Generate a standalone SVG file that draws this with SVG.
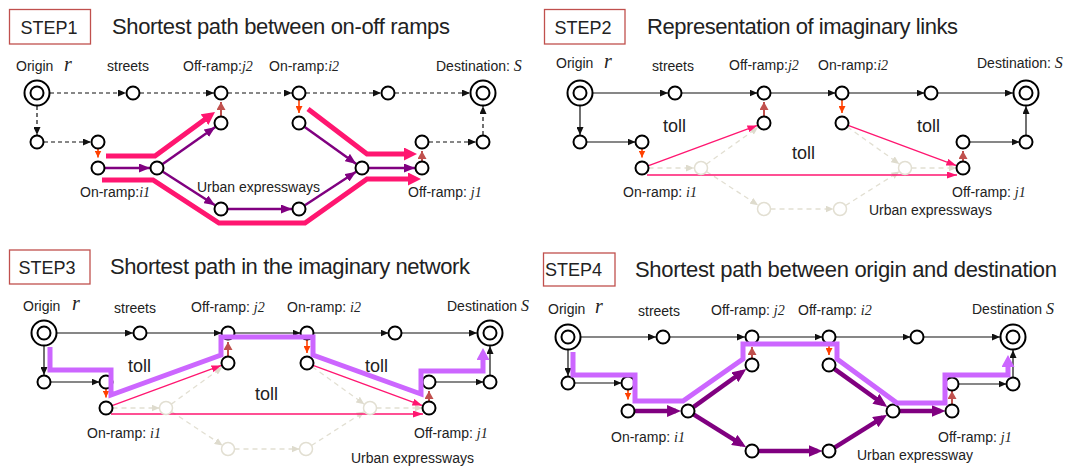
<svg xmlns="http://www.w3.org/2000/svg" width="1070" height="469" viewBox="0 0 1070 469">
<style>
.n{fill:#fff;stroke:#000;stroke-width:2}
.f{fill:#fff;stroke:#e2dfd2;stroke-width:1.5}
.e{stroke:#111;stroke-width:1.2;fill:none;marker-end:url(#ab)}
.d{stroke-dasharray:4 3}
.fe{stroke:#e2dfd2;stroke-width:1.3;stroke-dasharray:5 4;fill:none;marker-end:url(#af)}
.or{stroke:#ff4000;stroke-width:1.6;marker-end:url(#ao)}
.br{stroke:#c0504d;stroke-width:2;marker-end:url(#abr)}
.pu{stroke:#800080;stroke-width:2.5;marker-end:url(#apu)}
.pu4{stroke:#800080;stroke-width:4.5;marker-end:url(#apu4)}
.pk{stroke:#ff1670;stroke-width:5;fill:none;stroke-linejoin:miter;marker-end:url(#apk)}
.pt{stroke:#ff1670;stroke-width:1.3;fill:none;marker-end:url(#apt)}
.vi{stroke:#cc66ff;stroke-width:5;fill:none;stroke-linejoin:miter;marker-end:url(#avi)}
.box{fill:#fff;stroke:#c0504d;stroke-width:1.3}
text{font-family:"Liberation Sans",Arial,sans-serif;fill:#222}
.lb{font-size:14px}
.it{font-family:"Liberation Serif","Times New Roman",serif;font-style:italic}
.big{font-size:20px}
.sv{font-size:16px}
.tt{font-size:22px}
.st{font-size:18px}
.tl{font-size:18px}
</style>
<defs>
<marker id="ab" viewBox="0 0 10 10" preserveAspectRatio="none" markerUnits="userSpaceOnUse" markerWidth="8" markerHeight="7" refX="10" refY="5" orient="auto"><path d="M0,0L10,5L0,10z" fill="#111"/></marker>
<marker id="af" viewBox="0 0 10 10" preserveAspectRatio="none" markerUnits="userSpaceOnUse" markerWidth="8" markerHeight="7" refX="10" refY="5" orient="auto"><path d="M0,0L10,5L0,10z" fill="#dedbcd"/></marker>
<marker id="ao" viewBox="0 0 10 10" preserveAspectRatio="none" markerUnits="userSpaceOnUse" markerWidth="7" markerHeight="7" refX="10" refY="5" orient="auto"><path d="M0,0L10,5L0,10z" fill="#ff4000"/></marker>
<marker id="abr" viewBox="0 0 10 10" preserveAspectRatio="none" markerUnits="userSpaceOnUse" markerWidth="8" markerHeight="9" refX="10" refY="5" orient="auto"><path d="M0,0L10,5L0,10z" fill="#c0504d"/></marker>
<marker id="apu" viewBox="0 0 10 10" preserveAspectRatio="none" markerUnits="userSpaceOnUse" markerWidth="11" markerHeight="9" refX="10" refY="5" orient="auto"><path d="M0,0L10,5L0,10z" fill="#800080"/></marker>
<marker id="apu4" viewBox="0 0 10 10" preserveAspectRatio="none" markerUnits="userSpaceOnUse" markerWidth="14" markerHeight="12" refX="6.4" refY="5" orient="auto"><path d="M0,0L10,5L0,10z" fill="#800080"/></marker>
<marker id="apk" viewBox="0 0 10 10" preserveAspectRatio="none" markerUnits="userSpaceOnUse" markerWidth="13" markerHeight="13" refX="5.4" refY="5" orient="auto"><path d="M0,0L10,5L0,10z" fill="#ff1670"/></marker>
<marker id="apt" viewBox="0 0 10 10" preserveAspectRatio="none" markerUnits="userSpaceOnUse" markerWidth="10" markerHeight="7" refX="10" refY="5" orient="auto"><path d="M0,0L10,5L0,10z" fill="#ff1670"/></marker>
<marker id="avi" viewBox="0 0 10 10" preserveAspectRatio="none" markerUnits="userSpaceOnUse" markerWidth="12" markerHeight="13" refX="5" refY="5" orient="auto"><path d="M0,0L10,5L0,10z" fill="#cc66ff"/></marker>
</defs>

<!-- headers -->
<g id="headers">
<rect class="box" x="9.5" y="9.5" width="81" height="34.5"/>
<text class="st" x="20.5" y="33.5">STEP1</text>
<text class="tt" x="112" y="33.5" textLength="338" lengthAdjust="spacing">Shortest path between on-off ramps</text>
<rect class="box" x="544.5" y="9.5" width="80.5" height="34.5"/>
<text class="st" x="554.5" y="33.5">STEP2</text>
<text class="tt" x="647" y="33.5" textLength="311" lengthAdjust="spacing">Representation of imaginary links</text>
<rect class="box" x="9.5" y="250" width="80.5" height="34"/>
<text class="st" x="18.5" y="273.5">STEP3</text>
<text class="tt" x="110" y="273.5" textLength="360" lengthAdjust="spacing">Shortest path in the imaginary network</text>
<rect class="box" x="543.5" y="253" width="71.5" height="33"/>
<text class="st" x="545" y="276">STEP4</text>
<text class="tt" x="635" y="277" textLength="422" lengthAdjust="spacing">Shortest path between origin and destination</text>
</g>

<g id="connectors">
<!-- PANEL 1 -->
<line class="e d" x1="50" y1="93" x2="126" y2="93"/>
<line class="e d" x1="140" y1="93" x2="214" y2="93"/>
<line class="e d" x1="228" y1="93" x2="292" y2="93"/>
<line class="e d" x1="306" y1="93" x2="381" y2="93"/>
<line class="e d" x1="395" y1="93" x2="470" y2="93"/>
<line class="e d" x1="37" y1="106" x2="37" y2="135"/>
<line class="e d" x1="44" y1="142" x2="91" y2="142"/>
<line class="e d" x1="429" y1="142" x2="476" y2="142"/>
<line class="e d" x1="483" y1="135" x2="483" y2="106"/>
<line class="or" x1="98" y1="148.5" x2="98" y2="157.5"/>
<line class="or" x1="299" y1="100" x2="299" y2="113"/>
<line class="br" x1="221" y1="116" x2="221" y2="102"/>
<line class="br" x1="422" y1="161" x2="422" y2="151"/>
<line class="pu" x1="105" y1="168" x2="150" y2="168"/>
<line class="pu" x1="162.7" y1="164" x2="215.3" y2="127"/>
<line class="pu" x1="162.9" y1="171.8" x2="215.1" y2="205.2"/>
<line class="pu" x1="228" y1="209" x2="292" y2="209"/>
<line class="pu" x1="304.9" y1="205.2" x2="356.1" y2="171.8"/>
<line class="pu" x1="304.7" y1="127.1" x2="356.3" y2="163.9"/>
<line class="pu" x1="369" y1="168" x2="415" y2="168"/>
<path class="pk" d="M106,156 L155,156 L210.2,115.5"/>
<path class="pk" d="M102,180 L153,180 L219,223 L305,223 L367,179 L415,179"/>
<path class="pk" d="M308,109 L367,154 L411,154"/>

<!-- PANEL 2 -->
<line class="e" x1="593" y1="93" x2="668" y2="93"/>
<line class="e" x1="681.5" y1="93" x2="757.5" y2="93"/>
<line class="e" x1="770.5" y1="93" x2="835.5" y2="93"/>
<line class="e" x1="848.5" y1="93" x2="924.5" y2="93"/>
<line class="e" x1="937.5" y1="93" x2="1013" y2="93"/>
<line class="e" x1="580" y1="106" x2="580" y2="135"/>
<line class="e" x1="586.5" y1="142" x2="635.5" y2="142"/>
<line class="e" x1="969.5" y1="142" x2="1019.5" y2="142"/>
<line class="e" x1="1026" y1="135.5" x2="1026" y2="106"/>
<line class="fe" x1="648.5" y1="168" x2="694" y2="168"/>
<line class="fe" x1="706.3" y1="164.2" x2="758.3" y2="127.1"/>
<line class="fe" x1="706.4" y1="171.5" x2="758.1" y2="205.2"/>
<line class="fe" x1="770.5" y1="209" x2="833.5" y2="209"/>
<line class="fe" x1="845.5" y1="205.5" x2="899.5" y2="171.5"/>
<line class="fe" x1="847.3" y1="126.8" x2="899.3" y2="163.9"/>
<line class="fe" x1="911.5" y1="168" x2="956.5" y2="168"/>
<line class="or" x1="642" y1="148.5" x2="642" y2="157.5"/>
<line class="or" x1="842" y1="100" x2="842" y2="113"/>
<line class="br" x1="764" y1="116" x2="764" y2="102"/>
<line class="br" x1="963" y1="161" x2="963" y2="151"/>
<line class="pt" x1="648" y1="165.8" x2="757.4" y2="125.4"/>
<line class="pt" x1="647" y1="175" x2="957" y2="175"/>
<line class="pt" x1="848.1" y1="125.3" x2="956.4" y2="165.6"/>

<!-- PANEL 3 -->
<line class="e" x1="57" y1="333" x2="133" y2="333"/>
<line class="e" x1="146.5" y1="333" x2="221.5" y2="333"/>
<line class="e" x1="234.5" y1="333" x2="300.5" y2="333"/>
<line class="e" x1="313.5" y1="333" x2="388.5" y2="333"/>
<line class="e" x1="401.5" y1="333" x2="477" y2="333"/>
<line class="e" x1="44" y1="346" x2="44" y2="375"/>
<line class="e" x1="50.5" y1="382" x2="99.5" y2="382"/>
<line class="e" x1="435.5" y1="382" x2="483.5" y2="382"/>
<line class="e" x1="490" y1="375.5" x2="490" y2="346"/>
<line class="fe" x1="112.5" y1="408" x2="159.5" y2="408"/>
<line class="fe" x1="171.3" y1="404.1" x2="222.3" y2="367.1"/>
<line class="fe" x1="171.4" y1="411.6" x2="222.6" y2="445.4"/>
<line class="fe" x1="234.5" y1="449" x2="299.5" y2="449"/>
<line class="fe" x1="311.5" y1="445.5" x2="364.5" y2="411.5"/>
<line class="fe" x1="312.3" y1="366.8" x2="364.3" y2="404.2"/>
<line class="fe" x1="376.5" y1="408" x2="422.5" y2="408"/>
<line class="or" x1="106" y1="388.5" x2="106" y2="397.5"/>
<line class="or" x1="307" y1="340" x2="307" y2="353"/>
<line class="br" x1="228" y1="356" x2="228" y2="342"/>
<line class="br" x1="429" y1="401" x2="429" y2="391"/>
<line class="pt" x1="112.1" y1="405.7" x2="221.4" y2="365.4"/>
<line class="pt" x1="111" y1="414" x2="423" y2="414"/>
<line class="pt" x1="313.1" y1="365.3" x2="422.4" y2="405.6"/>

<!-- PANEL 4 -->
<line class="e" x1="581" y1="337" x2="656" y2="337"/>
<line class="e" x1="669.5" y1="337" x2="745" y2="337"/>
<line class="e" x1="758.5" y1="337" x2="822.5" y2="337"/>
<line class="e" x1="835.5" y1="337" x2="910.5" y2="337"/>
<line class="e" x1="923.5" y1="337" x2="1000" y2="337"/>
<line class="e" x1="568" y1="350" x2="568" y2="376"/>
<line class="e" x1="574.5" y1="383" x2="621.5" y2="383"/>
<line class="e" x1="958.5" y1="384" x2="1006.5" y2="384"/>
<line class="e" x1="1013" y1="377.5" x2="1013" y2="350"/>
<line class="or" x1="628" y1="389.5" x2="628" y2="399.5"/>
<line class="or" x1="829" y1="343.5" x2="829" y2="355"/>
<line class="br" x1="752" y1="358.5" x2="752" y2="347"/>
<line class="br" x1="952" y1="404.5" x2="952" y2="391"/>
<line class="pu4" x1="635" y1="411" x2="676" y2="411"/>
<line class="pu4" x1="693.7" y1="406.9" x2="742.2" y2="372"/>
<line class="pu4" x1="693.9" y1="414.7" x2="741.9" y2="444.7"/>
<line class="pu4" x1="758.5" y1="451" x2="817.5" y2="451"/>
<line class="pu4" x1="834.9" y1="447.3" x2="882.9" y2="417.4"/>
<line class="pu4" x1="834.7" y1="369.1" x2="883.2" y2="404"/>
<line class="pu4" x1="899.5" y1="411" x2="940.5" y2="411"/>
</g>

<!-- PANEL 1 nodes -->
<g id="p1-origin"><circle class="n" cx="37" cy="93" r="12.5"/><circle class="n" cx="37" cy="93" r="6.5"/><text class="lb" x="16" y="71">Origin</text><text class="it big" x="64" y="71">r</text></g>
<g id="p1-street1"><circle class="n" cx="133" cy="93" r="6.5"/></g>
<g id="p1-offramp-j2"><circle class="n" cx="221" cy="93" r="6.5"/><text class="lb" x="183" y="71">Off-ramp:<tspan class="it">j2</tspan></text></g>
<g id="p1-onramp-i2"><circle class="n" cx="299" cy="93" r="6.5"/><text class="lb" x="269" y="71">On-ramp:<tspan class="it">i2</tspan></text></g>
<g id="p1-street2"><circle class="n" cx="388" cy="93" r="6.5"/></g>
<g id="p1-destination"><circle class="n" cx="483" cy="93" r="12.5"/><circle class="n" cx="483" cy="93" r="6.5"/><text class="lb" x="436" y="71">Destination: <tspan class="it sv">S</tspan></text></g>
<g id="p1-street3"><circle class="n" cx="37" cy="142" r="6.5"/></g>
<g id="p1-street4"><circle class="n" cx="98" cy="142" r="6.5"/></g>
<g id="p1-onramp-i1"><circle class="n" cx="98" cy="168" r="6.5"/><text class="lb" x="80" y="197">On-ramp:<tspan class="it">i1</tspan></text></g>
<g id="p1-exp1"><circle class="n" cx="157" cy="168" r="6.5"/></g>
<g id="p1-exp-j2"><circle class="n" cx="221" cy="123" r="6.5"/></g>
<g id="p1-exp-i2"><circle class="n" cx="299" cy="123" r="6.5"/></g>
<g id="p1-exp2"><circle class="n" cx="221" cy="209" r="6.5"/></g>
<g id="p1-exp3"><circle class="n" cx="299" cy="209" r="6.5"/></g>
<g id="p1-exp4"><circle class="n" cx="362" cy="168" r="6.5"/></g>
<g id="p1-offramp-j1"><circle class="n" cx="422" cy="168" r="6.5"/><text class="lb" x="408" y="197">Off-ramp: <tspan class="it">j1</tspan></text></g>
<g id="p1-street5"><circle class="n" cx="422" cy="142" r="6.5"/></g>
<g id="p1-street6"><circle class="n" cx="483" cy="142" r="6.5"/></g>

<!-- PANEL 2 nodes -->
<g id="p2-origin"><circle class="n" cx="580" cy="93" r="12.5"/><circle class="n" cx="580" cy="93" r="6.5"/><text class="lb" x="556" y="68">Origin</text><text class="it big" x="604" y="68">r</text></g>
<g id="p2-street1"><circle class="n" cx="675" cy="93" r="6.5"/></g>
<g id="p2-offramp-j2"><circle class="n" cx="764" cy="93" r="6.5"/><text class="lb" x="729" y="70">Off-ramp:<tspan class="it">j2</tspan></text></g>
<g id="p2-onramp-i2"><circle class="n" cx="842" cy="93" r="6.5"/><text class="lb" x="818" y="70">On-ramp:<tspan class="it">i2</tspan></text></g>
<g id="p2-street2"><circle class="n" cx="931" cy="93" r="6.5"/></g>
<g id="p2-destination"><circle class="n" cx="1026" cy="93" r="12.5"/><circle class="n" cx="1026" cy="93" r="6.5"/><text class="lb" x="977" y="68">Destination: <tspan class="it sv">S</tspan></text></g>
<g id="p2-street3"><circle class="n" cx="580" cy="142" r="6.5"/></g>
<g id="p2-street4"><circle class="n" cx="642" cy="142" r="6.5"/></g>
<g id="p2-onramp-i1"><circle class="n" cx="642" cy="168" r="6.5"/><text class="lb" x="623" y="197">On-ramp: <tspan class="it">i1</tspan></text></g>
<g id="p2-exp1"><circle class="f" cx="701" cy="168" r="6.5"/></g>
<g id="p2-exp-j2"><circle class="n" cx="764" cy="123" r="6.5"/></g>
<g id="p2-exp-i2"><circle class="n" cx="842" cy="123" r="6.5"/></g>
<g id="p2-exp2"><circle class="f" cx="764" cy="209" r="6.5"/></g>
<g id="p2-exp3"><circle class="f" cx="840" cy="209" r="6.5"/></g>
<g id="p2-exp4"><circle class="f" cx="905" cy="168" r="6.5"/></g>
<g id="p2-offramp-j1"><circle class="n" cx="963" cy="168" r="6.5"/><text class="lb" x="952" y="197">Off-ramp: <tspan class="it">j1</tspan></text></g>
<g id="p2-street5"><circle class="n" cx="963" cy="142" r="6.5"/></g>
<g id="p2-street6"><circle class="n" cx="1026" cy="142" r="6.5"/></g>

<!-- PANEL 3 nodes -->
<g id="p3-origin"><circle class="n" cx="44" cy="333" r="12.5"/><circle class="n" cx="44" cy="333" r="6.5"/><text class="lb" x="23" y="311">Origin</text><text class="it big" x="72" y="310">r</text></g>
<g id="p3-street1"><circle class="n" cx="140" cy="333" r="6.5"/></g>
<g id="p3-offramp-j2"><circle class="n" cx="228" cy="333" r="6.5"/><text class="lb" x="191" y="312">Off-ramp: <tspan class="it">j2</tspan></text></g>
<g id="p3-onramp-i2"><circle class="n" cx="307" cy="333" r="6.5"/><text class="lb" x="287" y="312">On-ramp: <tspan class="it">i2</tspan></text></g>
<g id="p3-street2"><circle class="n" cx="395" cy="333" r="6.5"/></g>
<g id="p3-destination"><circle class="n" cx="490" cy="333" r="12.5"/><circle class="n" cx="490" cy="333" r="6.5"/><text class="lb" x="447" y="311">Destination <tspan class="it sv">S</tspan></text></g>
<g id="p3-street3"><circle class="n" cx="44" cy="382" r="6.5"/></g>
<g id="p3-street4"><circle class="n" cx="106" cy="382" r="6.5"/></g>
<g id="p3-onramp-i1"><circle class="n" cx="106" cy="408" r="6.5"/><text class="lb" x="87" y="438">On-ramp: <tspan class="it">i1</tspan></text></g>
<g id="p3-exp1"><circle class="f" cx="166" cy="408" r="6.5"/></g>
<g id="p3-exp-j2"><circle class="n" cx="228" cy="363" r="6.5"/></g>
<g id="p3-exp-i2"><circle class="n" cx="307" cy="363" r="6.5"/></g>
<g id="p3-exp2"><circle class="f" cx="228" cy="449" r="6.5"/></g>
<g id="p3-exp3"><circle class="f" cx="306" cy="449" r="6.5"/></g>
<g id="p3-exp4"><circle class="f" cx="370" cy="408" r="6.5"/></g>
<g id="p3-offramp-j1"><circle class="n" cx="429" cy="408" r="6.5"/><text class="lb" x="414" y="438">Off-ramp: <tspan class="it">j1</tspan></text></g>
<g id="p3-street5"><circle class="n" cx="429" cy="382" r="6.5"/></g>
<g id="p3-street6"><circle class="n" cx="490" cy="382" r="6.5"/></g>

<!-- PANEL 4 nodes -->
<g id="p4-origin"><circle class="n" cx="568" cy="337" r="12.5"/><circle class="n" cx="568" cy="337" r="6.5"/><text class="lb" x="548" y="314">Origin</text><text class="it big" x="595" y="313">r</text></g>
<g id="p4-street1"><circle class="n" cx="663" cy="337" r="6.5"/></g>
<g id="p4-offramp-j2"><circle class="n" cx="752" cy="337" r="6.5"/><text class="lb" x="711" y="315">Off-ramp: <tspan class="it">j2</tspan></text></g>
<g id="p4-offramp-i2"><circle class="n" cx="829" cy="337" r="6.5"/><text class="lb" x="798" y="315">Off-ramp: <tspan class="it">i2</tspan></text></g>
<g id="p4-street2"><circle class="n" cx="917" cy="337" r="6.5"/></g>
<g id="p4-destination"><circle class="n" cx="1013" cy="337" r="12.5"/><circle class="n" cx="1013" cy="337" r="6.5"/><text class="lb" x="972" y="314">Destination <tspan class="it sv">S</tspan></text></g>
<g id="p4-street3"><circle class="n" cx="568" cy="383" r="6.5"/></g>
<g id="p4-street4"><circle class="n" cx="628" cy="383" r="6.5"/></g>
<g id="p4-onramp-i1"><circle class="n" cx="628" cy="411" r="6.5"/><text class="lb" x="611" y="442">On-ramp: <tspan class="it">i1</tspan></text></g>
<g id="p4-exp1"><circle class="n" cx="688" cy="411" r="6.5"/></g>
<g id="p4-exp-j2"><circle class="n" cx="752" cy="365" r="6.5"/></g>
<g id="p4-exp-i2"><circle class="n" cx="829" cy="365" r="6.5"/></g>
<g id="p4-exp2"><circle class="n" cx="752" cy="451" r="6.5"/></g>
<g id="p4-exp3"><circle class="n" cx="829" cy="451" r="6.5"/></g>
<g id="p4-exp4"><circle class="n" cx="893" cy="411" r="6.5"/></g>
<g id="p4-offramp-j1"><circle class="n" cx="952" cy="411" r="6.5"/><text class="lb" x="938" y="442">Off-ramp:  <tspan class="it">j1</tspan></text></g>
<g id="p4-street5"><circle class="n" cx="952" cy="384" r="6.5"/></g>
<g id="p4-street6"><circle class="n" cx="1013" cy="384" r="6.5"/></g>

<!-- highlighted routes (drawn over nodes) -->
<g id="routes">
<path class="vi" d="M50,347 L50,370 L111,370 L111,395 L221,355 L221,337 L313,337 L313,355 L421,394 L421,371 L483,371 L483,354"/>
<path class="vi" d="M573,352 L573,375 L635,375 L635,401 L683,401 L743,359 L743,344 L837,344 L837,359 L897,403 L945,403 L945,375 L1008,375 L1008,361"/>
</g>

<g id="labels">
<text class="lb" x="107" y="71">streets</text>
<text class="lb" x="197" y="192">Urban expressways</text>
<text class="lb" x="652" y="71">streets</text>
<text class="tl" x="663" y="132">toll</text>
<text class="tl" x="792" y="159">toll</text>
<text class="tl" x="917" y="132">toll</text>
<text class="lb" x="869" y="215">Urban expressways</text>
<text class="lb" x="114" y="313">streets</text>
<text class="tl" x="128" y="372">toll</text>
<text class="tl" x="255" y="400">toll</text>
<text class="tl" x="365" y="372">toll</text>
<text class="lb" x="351" y="463">Urban expressways</text>
<text class="lb" x="638" y="316">streets</text>
<text class="lb" x="857" y="460">Urban expressway</text>
</g>
</svg>
